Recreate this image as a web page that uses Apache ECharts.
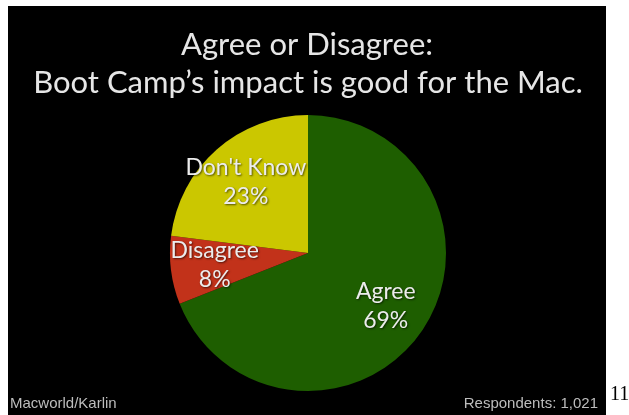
<!DOCTYPE html>
<html>
<head>
<meta charset="utf-8">
<script src="https://cdn.jsdelivr.net/npm/echarts@6/dist/echarts.min.js"></script>
<style>
html,body{margin:0;padding:0;background:#fff;}
#c{width:629px;height:415px;}
</style>
</head>
<body>
<div id="c"></div>
<script>
var categories = ["Agree", "Disagree", "Don't Know"];
var values = [69, 8, 23];
var sliceColors = ["#1e5e00", "#c2321a", "#cbc700"];
var titleLines = ["Agree or Disagree:", "Boot Camp\u2019s impact is good for the Mac."];
var sourceText = "Macworld/Karlin";
var respondentsText = "Respondents: 1,021";
var pageNumber = "11";

var data = categories.map(function (c, i) {
  return { name: c, value: values[i], itemStyle: { color: sliceColors[i] } };
});
var labelData = categories.map(function (c, i) {
  return { name: c, value: values[i] };
});

var chart = echarts.init(document.getElementById('c'), null, { renderer: 'canvas' });
var titleFont = 'Lato, "Open Sans", sans-serif';
chart.setOption({
  backgroundColor: '#ffffff',
  animation: false,
  graphic: [
    { type: 'rect', z: -10, shape: { x: 8, y: 6, width: 598, height: 409 }, style: { fill: '#000000' } },
    { type: 'text', z: 10, style: { text: titleLines[0], x: 307, y: 45, textAlign: 'center', textVerticalAlign: 'middle', fill: '#e6e6e6', font: '31px ' + titleFont } },
    { type: 'text', z: 10, style: { text: titleLines[1], x: 308, y: 83, textAlign: 'center', textVerticalAlign: 'middle', fill: '#e6e6e6', font: '31px ' + titleFont } },
    { type: 'text', z: 10, style: { text: sourceText, x: 10, y: 404, textAlign: 'left', textVerticalAlign: 'middle', fill: '#bdbdbd', font: '15px "Liberation Sans", Arial, sans-serif' } },
    { type: 'text', z: 10, style: { text: respondentsText, x: 598, y: 404, textAlign: 'right', textVerticalAlign: 'middle', fill: '#bdbdbd', font: '15px "Liberation Sans", Arial, sans-serif' } },
    { type: 'text', z: 10, style: { text: pageNumber, x: 610, y: 395, textAlign: 'left', textVerticalAlign: 'middle', fill: '#000000', font: '20px "Liberation Serif", "DejaVu Serif", serif' } }
  ],
  series: [
    {
      type: 'pie',
      center: [308, 253],
      radius: [0, 138],
      startAngle: 90,
      clockwise: true,
      silent: true,
      label: { show: false },
      labelLine: { show: false },
      itemStyle: { borderWidth: 0 },
      data: data
    },
    {
      type: 'pie',
      center: [308, 253],
      radius: [44, 138],
      startAngle: 90,
      clockwise: true,
      silent: true,
      z: 5,
      itemStyle: { color: 'rgba(0,0,0,0)', borderWidth: 0 },
      labelLine: { show: false },
      label: {
        show: true,
        position: 'inside',
        formatter: '{b}\n{c}%',
        color: '#ececec',
        fontFamily: titleFont,
        fontSize: 23,
        lineHeight: 29,
        textBorderWidth: 0,
        textShadowColor: 'rgba(0,0,0,0.6)',
        textShadowBlur: 2,
        textShadowOffsetX: 1,
        textShadowOffsetY: 1
      },
      data: labelData
    }
  ]
});
</script>
</body>
</html>
